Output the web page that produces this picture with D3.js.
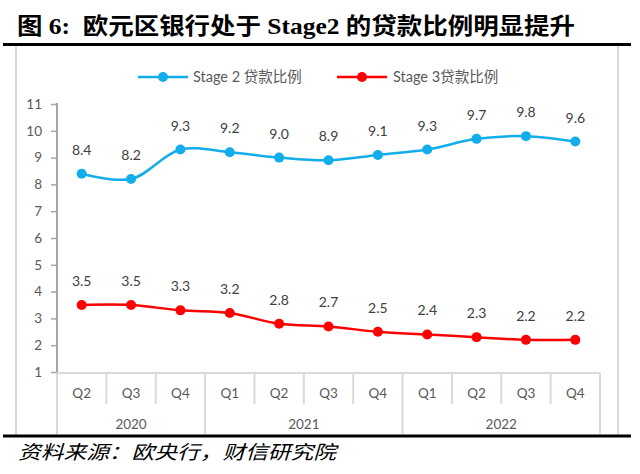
<!DOCTYPE html>
<html><head><meta charset="utf-8">
<script src="https://cdn.jsdelivr.net/npm/d3@7"></script>
<style>body{margin:0;background:#fff}svg{display:block}</style>
</head><body>
<svg id="c" width="640" height="474"></svg>
<script>
const quarters = ["Q2","Q3","Q4","Q1","Q2","Q3","Q4","Q1","Q2","Q3","Q4"];
const years = ["2020","2021","2022"];
const yearSpans = [3,4,4];
const stage2 = [8.4,8.2,9.3,9.2,9.0,8.9,9.1,9.3,9.7,9.8,9.6];
const stage3 = [3.5,3.5,3.3,3.2,2.8,2.7,2.5,2.4,2.3,2.2,2.2];
const yTicks = [1,2,3,4,5,6,7,8,9,10,11];
const seriesNames = ["Stage 2 贷款比例","Stage 3贷款比例"];
const colors = ["#12AEEB","#FF0000"];

const svg = d3.select("#c");
const numFont = "Lato, 'Noto Sans CJK SC', sans-serif";
const x = d3.scaleBand().domain(d3.range(quarters.length)).range([57,600]).padding(0);
const y = d3.scaleLinear().domain([1,11]).range([372,104]);

// title
svg.append("text").attr("x",17).attr("y",34)
  .attr("font-family","'Liberation Serif','Noto Sans CJK SC',serif").attr("font-weight","bold")
  .attr("font-size",23).attr("fill","#000")
  .attr("textLength",558).attr("lengthAdjust","spacingAndGlyphs")
  .text("图\u00a06:\u00a0\u00a0欧元区银行处于\u00a0Stage2\u00a0的贷款比例明显提升");
// frame
svg.append("line").attr("x1",16).attr("x2",16).attr("y1",46).attr("y2",435).attr("stroke","#d9d9d9").attr("stroke-width",2);
svg.append("line").attr("x1",618).attr("x2",618).attr("y1",46).attr("y2",435).attr("stroke","#d9d9d9").attr("stroke-width",2);
svg.append("line").attr("x1",3).attr("x2",631).attr("y1",44.5).attr("y2",44.5).attr("stroke","#000").attr("stroke-width",3);
svg.append("line").attr("x1",3).attr("x2",631).attr("y1",436).attr("y2",436).attr("stroke","#000").attr("stroke-width",3);

// source
svg.append("text").attr("x",18).attr("y",459)
  .attr("font-family","'Noto Sans CJK SC',sans-serif").attr("font-style","italic")
  .attr("font-size",19).attr("fill","#000")
  .attr("textLength",318).attr("lengthAdjust","spacingAndGlyphs")
  .text("资料来源：欧央行，财信研究院");

// y axis
const ya = svg.append("g").attr("transform","translate(57,0)")
  .call(d3.axisLeft(y).tickValues(yTicks).tickSize(6).tickPadding(9).tickFormat(d3.format("d")));
ya.select(".domain").attr("stroke","#a6a6a6").attr("stroke-width",2).attr("d","M0,103V372");
ya.selectAll(".tick line").attr("stroke","#a6a6a6").attr("stroke-width",1.5);
ya.selectAll(".tick text").attr("font-family",numFont).attr("font-size",13.5).attr("fill","#595959");

// x axis (multi-level)
const xg = svg.append("g");
xg.append("line").attr("x1",57).attr("x2",600).attr("y1",373).attr("y2",373).attr("stroke","#d9d9d9").attr("stroke-width",2);
const yearBounds = [0];
yearSpans.forEach((s,i)=>yearBounds.push(yearBounds[i]+s));
d3.range(quarters.length+1).forEach(i=>{
  const xp = i<quarters.length ? x(i) : x.range()[1];
  const isYear = yearBounds.includes(i);
  xg.append("line").attr("x1",xp).attr("x2",xp).attr("y1",373).attr("y2",isYear?434:404)
    .attr("stroke","#d9d9d9").attr("stroke-width",2);
});
xg.selectAll("text.q").data(quarters).join("text").attr("class","q")
  .attr("x",(d,i)=>x(i)+x.bandwidth()/2).attr("y",398).attr("text-anchor","middle")
  .attr("font-family",numFont).attr("font-size",13.5).attr("fill","#595959").text(d=>d);
xg.selectAll("text.yr").data(years).join("text").attr("class","yr")
  .attr("x",(d,i)=>{const a=x(yearBounds[i]); const b=yearBounds[i+1]<quarters.length?x(yearBounds[i+1]):x.range()[1]; return (a+b)/2;})
  .attr("y",429).attr("text-anchor","middle")
  .attr("font-family",numFont).attr("font-size",13.5).attr("fill","#595959").text(d=>d);

// series
const line = d3.line().x((d,i)=>x(i)+x.bandwidth()/2).y(d=>y(d)).curve(d3.curveCatmullRom.alpha(0.5));
[stage2,stage3].forEach((s,k)=>{
  const g = svg.append("g");
  g.append("path").datum(s).attr("d",line).attr("fill","none").attr("stroke",colors[k]).attr("stroke-width",2.5);
  g.selectAll("circle").data(s).join("circle").attr("cx",(d,i)=>x(i)+x.bandwidth()/2).attr("cy",d=>y(d)).attr("r",5).attr("fill",colors[k]);
  g.selectAll("text").data(s).join("text").attr("x",(d,i)=>x(i)+x.bandwidth()/2).attr("y",d=>y(d)-19)
    .attr("text-anchor","middle").attr("font-family",numFont).attr("font-size",14).attr("fill","#404040")
    .text(d=>d.toFixed(1));
});

// legend
const leg = [[138,188,163,193],[337,387,362,393]];
leg.forEach((p,k)=>{
  svg.append("line").attr("x1",p[0]).attr("x2",p[1]).attr("y1",77).attr("y2",77).attr("stroke",colors[k]).attr("stroke-width",2.5);
  svg.append("circle").attr("cx",p[2]).attr("cy",77).attr("r",5).attr("fill",colors[k]);
  svg.append("text").attr("x",p[3]).attr("y",82).attr("font-family",numFont).attr("font-size",14.5).attr("fill","#595959").text(seriesNames[k]);
});
</script>
</body></html>
